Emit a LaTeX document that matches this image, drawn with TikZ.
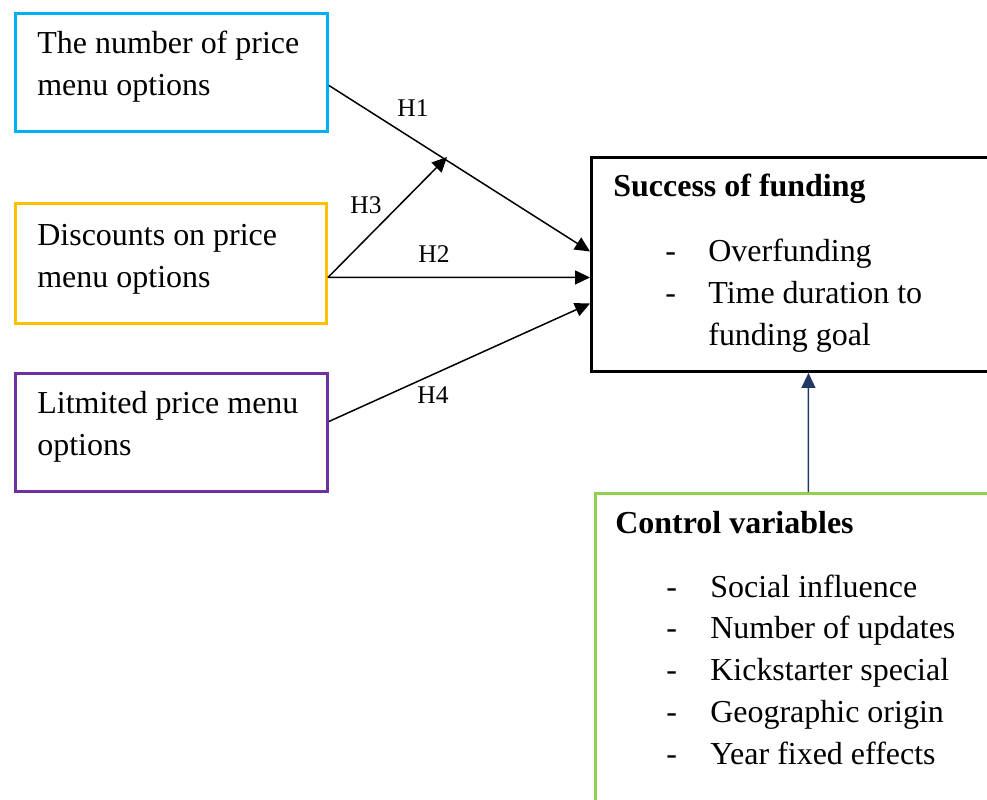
\documentclass[tikz,border=0pt]{standalone}
\usepackage{fontspec}
\setmainfont{Liberation Serif}
\usepackage{array}
\usetikzlibrary{arrows.meta}
\definecolor{boxblue}{HTML}{00B0F0}
\definecolor{boxgold}{HTML}{FFC000}
\definecolor{boxpurple}{HTML}{7030A0}
\definecolor{boxgreen}{HTML}{92D050}
\definecolor{ctrlnavy}{HTML}{1F3864}
\tikzstyle{var_box} = [rectangle, draw, line width=0.06cm, inner sep=0pt, anchor=north west]
\tikzstyle{var_txt} = [align=left, inner sep=0pt, anchor=north west, font=\fontsize{18.2}{23.8}\selectfont]
\tikzstyle{var_lst} = [inner sep=0pt, anchor=base west, font=\fontsize{18.2}{23.8}\selectfont]
\tikzstyle{hyp_lbl} = [inner sep=0pt, font=\fontsize{14.5}{16}\selectfont]
\tikzstyle{hyp_arr} = [->, line width=0.85pt]

\begin{document}
\begin{tikzpicture}[x=0.02cm, y=-0.02cm, >={Triangle[length=0.3cm,width=0.28cm]}]
\useasboundingbox (0,0) rectangle (987,800);
\clip (0,0) rectangle (987,800);
% predictors
\node [var_box, draw=boxblue, minimum width=6.24cm, minimum height=2.36cm] (num) at (14,12) {};
\node [var_box, draw=boxgold, minimum width=6.22cm, minimum height=2.4cm] (disc) at (14,202) {};
\node [var_box, draw=boxpurple, minimum width=6.24cm, minimum height=2.36cm] (lim) at (14,372) {};
\node [var_txt] (num_t) at (37,31) {The number of price\\menu options};
\node [var_txt] (disc_t) at (37,224) {Discounts on price\\menu options};
\node [var_txt] (lim_t) at (37,391) {Litmited price menu\\options};
% outcome
\node [var_box, draw=black, minimum width=8.68cm, minimum height=4.28cm] (succ) at (590,156) {};
\node [var_lst, font=\fontsize{18.2}{23.8}\selectfont\bfseries] (succ_t) at (613,197) {Success of funding};
\node [var_lst] (succ_l) at (665,262) {\begin{tabular}[t]{@{}p{0.86cm}@{}l@{}}
- & Overfunding\\
- & Time duration to\\
  & funding goal
\end{tabular}};
% controls
\node [var_box, draw=boxgreen, minimum width=8.52cm, minimum height=6.96cm] (ctrl) at (594,492) {};
\node [var_lst, font=\fontsize{18.2}{23.8}\selectfont\bfseries] (ctrl_t) at (615,533) {Control variables};
\node [var_lst] (ctrl_l) at (666,597) {\begin{tabular}[t]{@{}p{0.88cm}@{}l@{}}
- & Social influence\\
- & Number of updates\\
- & Kickstarter special\\
- & Geographic origin\\
- & Year fixed effects
\end{tabular}};
% hypotheses
\coordinate (meet) at (447,157);
\draw [hyp_arr] ([yshift=-0.26cm]num.east) -- ([yshift=0.26cm]succ.west);
\draw [hyp_arr] ([yshift=-0.28cm]disc.east) -- (meet);
\draw [hyp_arr] ([yshift=-0.28cm]disc.east) -- ([yshift=-0.26cm]succ.west);
\draw [hyp_arr] ([yshift=0.22cm]lim.east) -- ([yshift=-0.78cm]succ.west);
\draw [->, line width=0.85pt, ctrlnavy] (ctrl.north) -- (succ.south);
\node [hyp_lbl] (h1) at (413,108) {H1};
\node [hyp_lbl] (h3) at (366,205) {H3};
\node [hyp_lbl] (h2) at (434,254) {H2};
\node [hyp_lbl] (h4) at (433,395) {H4};
\end{tikzpicture}
\end{document}
